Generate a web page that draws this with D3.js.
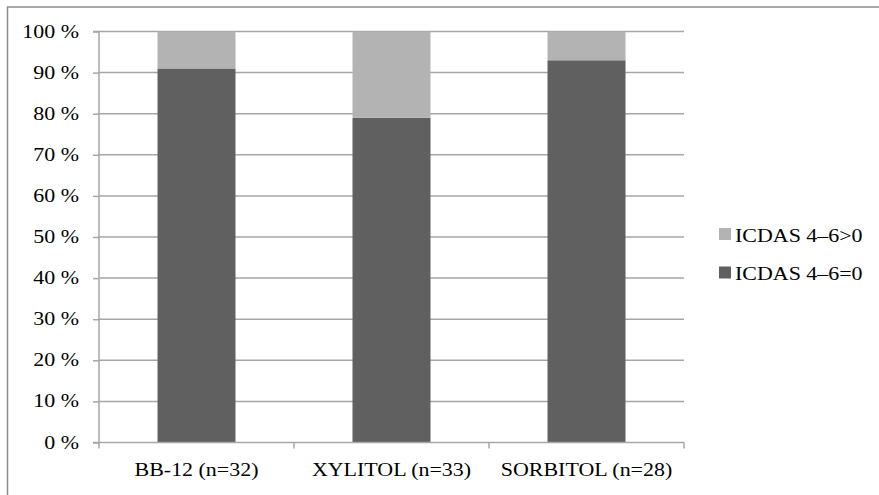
<!DOCTYPE html>
<html>
<head>
<meta charset="utf-8">
<script src="https://cdn.jsdelivr.net/npm/d3@7"></script>
<style>
  html, body { margin: 0; padding: 0; background: #fff; }
  svg { display: block; }
</style>
</head>
<body>
<svg id="chart" width="879" height="495"></svg>
<script>
// Share of children by group (percent)
const categories = ["BB-12 (n=32)", "XYLITOL (n=33)", "SORBITOL (n=28)"];
const seriesNames = ["ICDAS 4–6=0", "ICDAS 4–6>0"];
const icdasZero = [91, 79, 93];
const icdasAbove = [9, 21, 7];
const yTicks = [0, 10, 20, 30, 40, 50, 60, 70, 80, 90, 100];
const seriesColors = ["#606060", "#b3b3b3"];

const FONT = '"Liberation Serif", "Times New Roman", serif';
const FONT_SIZE = 18;
const STRETCH = 1.22; // wide serif lettering

const svg = d3.select("#chart");

// place a horizontally stretched serif label
function label(parent, x, y, text, anchor) {
  return parent.append("text")
    .attr("transform", `translate(${x},${y}) scale(${STRETCH},1)`)
    .attr("text-anchor", anchor)
    .style("font-family", FONT)
    .style("font-size", FONT_SIZE + "px")
    .style("fill", "#000")
    .text(text);
}

// outer frame
svg.append("rect")
  .attr("x", 7.5).attr("y", 7).attr("width", 880).attr("height", 500)
  .attr("fill", "none").attr("stroke", "#8c8c8c").attr("stroke-width", 1.5);

const plotLeft = 99, plotRight = 684, plotTop = 31.5, plotBottom = 442.5;

const x = d3.scaleBand().domain(categories).range([plotLeft, plotRight]).paddingInner(0.6).paddingOuter(0.3);
const xCat = d3.scaleBand().domain(categories).range([plotLeft, plotRight]);
const y = d3.scaleLinear().domain([0, 100]).range([plotBottom, plotTop]);

// gridlines
svg.append("g")
  .selectAll("line").data(yTicks.filter(t => t > 0)).join("line")
  .attr("x1", plotLeft).attr("x2", plotRight)
  .attr("y1", d => y(d)).attr("y2", d => y(d))
  .attr("stroke", "#a6a6a6").attr("stroke-width", 1.5);

// stacked bars
const rows = categories.map((c, i) => ({ cat: c, [seriesNames[0]]: icdasZero[i], [seriesNames[1]]: icdasAbove[i] }));
const stacked = d3.stack().keys(seriesNames)(rows);

svg.append("g").selectAll("g").data(stacked).join("g")
  .attr("fill", (d, i) => seriesColors[i])
  .selectAll("rect").data(d => d).join("rect")
  .attr("x", d => x(d.data.cat))
  .attr("width", x.bandwidth())
  .attr("y", d => y(d[1]))
  .attr("height", d => y(d[0]) - y(d[1]));

// y axis
const yAxis = d3.axisLeft(y).tickValues(yTicks).tickSize(6).tickFormat("");
const gy = svg.append("g").attr("transform", `translate(${plotLeft},0)`).call(yAxis);
gy.select(".domain").attr("stroke", "#a6a6a6").attr("stroke-width", 1.5).attr("d", `M-6,${plotTop}H0V${plotBottom}H-6`);
gy.selectAll(".tick line").attr("stroke", "#a6a6a6").attr("stroke-width", 1.5);
gy.selectAll(".tick text").remove();
yTicks.forEach(t => label(gy, -20, y(t) + 6, t + " %", "end"));

// x axis
const gx = svg.append("g").attr("transform", `translate(0,${plotBottom})`);
gx.append("line").attr("x1", plotLeft).attr("x2", plotRight).attr("y1", 0).attr("y2", 0)
  .attr("stroke", "#a6a6a6").attr("stroke-width", 1.5);
const bounds = categories.map(c => xCat(c)).concat([plotRight]);
gx.selectAll(".xtick").data(bounds).join("line")
  .attr("class", "xtick")
  .attr("x1", d => d).attr("x2", d => d).attr("y1", 0).attr("y2", 6)
  .attr("stroke", "#a6a6a6").attr("stroke-width", 1.5);
categories.forEach(c => label(gx, xCat(c) + xCat.bandwidth() / 2, 33.5, c, "middle"));

// legend (top entry is the upper stack segment)
const legendItems = [seriesNames[1], seriesNames[0]];
const lg = svg.append("g").attr("transform", "translate(719,228)");
legendItems.forEach((name, i) => {
  const g = lg.append("g").attr("transform", `translate(0,${i * 38.5})`);
  g.append("rect").attr("width", 12).attr("height", 12)
    .attr("fill", seriesColors[seriesNames.indexOf(name)]);
  label(g, 16, 13.5, name, "start");
});
</script>
</body>
</html>
